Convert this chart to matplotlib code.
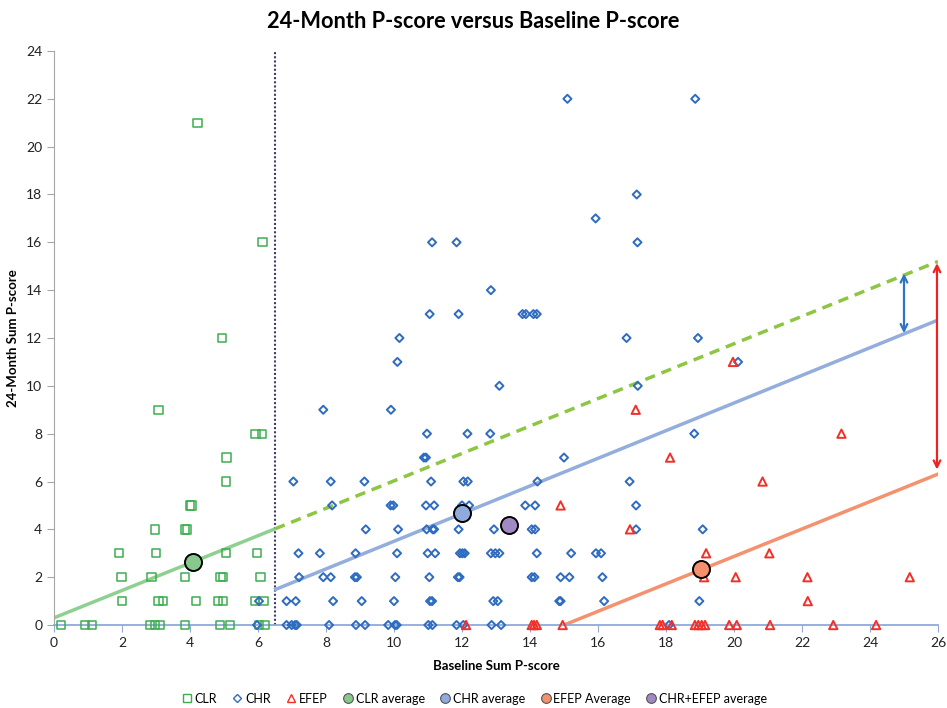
import matplotlib
matplotlib.use("Agg")
import matplotlib.pyplot as plt
from matplotlib.lines import Line2D

plt.rcParams['font.family'] = ['Lato', 'DejaVu Sans']

# ---------------- data ----------------
clr_x = [0.2, 0.92, 1.12, 2.82, 2.97, 3.12, 3.85, 4.88, 5.18, 6.03, 6.2,
         2.01, 3.07, 3.21, 4.17, 4.83, 4.98, 5.91, 6.16,
         1.99, 2.87, 3.86, 4.9, 4.98, 6.07,
         1.91, 3.01, 5.06, 5.97,
         2.97, 3.85, 3.92,
         4.0, 4.04,
         5.05, 5.07, 5.93, 6.12, 3.07, 4.95, 6.13, 4.22]
clr_y = [0, 0, 0, 0, 0, 0, 0, 0, 0, 0, 0,
         1, 1, 1, 1, 1, 1, 1, 1,
         2, 2, 2, 2, 2, 2,
         3, 3, 3, 3,
         4, 4, 4,
         5, 5,
         6, 7, 8, 8, 9, 12, 16, 21]

chr_x = [5.97, 6.84, 6.99, 7.09, 7.14, 8.09, 8.88, 9.15, 9.83, 10.03, 10.08, 11.01, 11.13, 11.84, 12.04, 12.87, 13.15, 18.09,
         6.03, 6.84, 7.11, 8.21, 9.05, 10.0, 11.06, 11.12, 12.92, 13.05, 14.86, 14.9, 16.18, 18.98,
         7.21, 7.92, 8.14, 8.85, 8.91, 10.04, 11.04, 11.88, 11.93, 14.05, 14.13, 14.9, 15.16, 16.13,
         7.19, 7.82, 8.87, 10.09, 10.99, 11.21, 11.94, 12.01, 12.08, 12.85, 12.98, 13.1, 14.2, 15.21, 15.94, 16.09,
         9.17, 10.12, 10.96, 11.14, 11.18, 11.9, 12.94, 14.05, 14.15, 17.12, 19.08,
         8.18, 9.9, 9.98, 10.94, 11.18, 12.0, 12.21, 13.86, 14.15, 17.12,
         7.04, 8.14, 9.13, 11.09, 12.04, 12.17, 14.22, 16.93,
         10.88, 10.94, 15.0,
         10.97, 12.16, 12.83, 18.83,
         7.92, 9.91,
         13.1, 17.17,
         10.1, 20.12,
         10.16, 16.84, 18.94,
         11.05, 11.9, 13.78, 13.88, 14.1, 14.2,
         12.85,
         11.12, 11.84, 17.16,
         15.93, 17.14,
         15.1, 18.86]
chr_y = [0] * 18 + [1] * 14 + [2] * 14 + [3] * 16 + [4] * 11 + [5] * 10 + [6] * 8 + \
        [7] * 3 + [8] * 4 + [9] * 2 + [10] * 2 + [11] * 2 + [12] * 3 + [13] * 6 + [14] + \
        [16] * 3 + [17, 18] + [22] * 2

efep_x = [12.12, 14.05, 14.12, 14.2, 14.96, 17.82, 17.9, 18.17, 18.85, 18.95, 19.05, 19.15,
          19.86, 20.08, 21.06, 22.92, 24.18,
          22.17,
          19.12, 20.05, 22.16, 25.17,
          19.18, 21.04,
          16.94, 14.9, 20.84, 18.12, 23.16, 17.11, 19.97]
efep_y = [0] * 17 + [1] + [2] * 4 + [3] * 2 + [4, 5, 6, 7, 8, 9, 11]

avg_labels = ['CLR average', 'CHR average', 'EFEP Average', 'CHR+EFEP average']
avg_x = [4.1, 12.0, 19.03, 13.38]
avg_y = [2.63, 4.67, 2.34, 4.2]

# trend lines (endpoints)
clr_fit_x = [0, 6.5]
clr_fit_y = [0.3, 4.02]
clr_ext_x = [6.5, 26]
clr_ext_y = [4.02, 15.2]
chr_fit_x = [6.52, 26]
chr_fit_y = [1.49, 12.75]
efep_fit_x = [15, 26]
efep_fit_y = [0, 6.31]

cutoff_x = 6.5

blue_arrow_x = 25.0
blue_arrow_y = [14.7, 12.2]
red_arrow_x = 25.97
red_arrow_y = [15.13, 6.5]

# ---------------- styles ----------------
c_clr = '#3DAE4F'
c_chr = '#2F6CC0'
c_efep = '#F2302A'
avg_colors = ['#86C98A', '#8FAADC', '#F4906C', '#A189C4']

fig = plt.figure(figsize=(9.47, 7.08), dpi=100)
ax = fig.add_axes([0.057, 0.1172, 0.9335, 0.8108])

ax.plot(clr_fit_x, clr_fit_y, color='#8ED08F', lw=2.5, solid_capstyle='butt', zorder=2)
ax.plot(clr_ext_x, clr_ext_y, color='#8DC642', lw=2.5, ls=(0, (3, 2)), zorder=2)
ax.plot(chr_fit_x, chr_fit_y, color='#93ADDD', lw=2.5, zorder=2)
ax.plot(efep_fit_x, efep_fit_y, color='#F4916F', lw=2.5, zorder=2)
ax.axvline(cutoff_x, color='#3C3C6E', lw=1.5, ls=(0, (1, 1)), zorder=1)

ax.scatter(clr_x, clr_y, marker='s', s=36, facecolors='none', edgecolors=c_clr,
           linewidths=1.1, clip_on=False, zorder=3, label='CLR')
ax.scatter(chr_x, chr_y, marker='D', s=17, facecolors='none', edgecolors=c_chr,
           linewidths=1.4, clip_on=False, zorder=3, label='CHR')
ax.scatter(efep_x, efep_y, marker='^', s=36, facecolors='none', edgecolors=c_efep,
           linewidths=1.4, clip_on=False, zorder=3, label='EFEP')
for xx, yy, cc in zip(avg_x, avg_y, avg_colors):
    ax.scatter([xx], [yy], marker='o', s=150, facecolors=cc, edgecolors='black',
               linewidths=1.4, zorder=5)

ax.annotate('', xy=(blue_arrow_x, blue_arrow_y[1]), xytext=(blue_arrow_x, blue_arrow_y[0]),
            arrowprops=dict(arrowstyle='<->', color='#2E75C0', lw=1.6, mutation_scale=12,
                            shrinkA=0, shrinkB=0), annotation_clip=False)
ax.annotate('', xy=(red_arrow_x, red_arrow_y[1]), xytext=(red_arrow_x, red_arrow_y[0]),
            arrowprops=dict(arrowstyle='<->', color='#EE2222', lw=1.6, mutation_scale=12,
                            shrinkA=0, shrinkB=0), annotation_clip=False)

ax.set_xlim(0, 26)
ax.set_ylim(0, 24)
ax.set_xticks(range(0, 27, 2))
ax.set_yticks(range(0, 25, 2))
for s in ['top', 'right']:
    ax.spines[s].set_visible(False)
ax.spines['left'].set_color('#A6A6A6')
ax.spines['bottom'].set_color('#8EA9DB')
ax.spines['bottom'].set_linewidth(1.3)
ax.tick_params(axis='y', colors='#A6A6A6', labelcolor='#222222', labelsize=10, length=5, direction='out')
ax.tick_params(axis='x', colors='#8EA9DB', labelcolor='#222222', labelsize=10, length=5, direction='out')

ax.set_xlabel('Baseline Sum P-score', fontsize=9.5, fontweight='bold', labelpad=8)
ax.set_ylabel('24-Month Sum P-score', fontsize=9.5, fontweight='bold')
ax.yaxis.set_label_coords(-0.04, 0.5)
fig.suptitle('24-Month P-score versus Baseline P-score', fontsize=15.7, fontweight='bold', y=0.985)

handles = [
    Line2D([], [], ls='none', marker='s', markersize=6, markerfacecolor='none', markeredgecolor=c_clr),
    Line2D([], [], ls='none', marker='D', markersize=4.5, markerfacecolor='none', markeredgecolor=c_chr),
    Line2D([], [], ls='none', marker='^', markersize=6, markerfacecolor='none', markeredgecolor=c_efep),
]
labels = ['CLR', 'CHR', 'EFEP']
for cc, lab in zip(avg_colors, avg_labels):
    handles.append(Line2D([], [], ls='none', marker='o', markersize=7, markerfacecolor=cc,
                          markeredgecolor='#555555', markeredgewidth=0.8))
    labels.append(lab)
fig.legend(handles, labels, loc='center', bbox_to_anchor=(0.5, 0.013), ncol=7, frameon=False,
           fontsize=9, handletextpad=0.05, columnspacing=1.1, handlelength=1.1)

fig.savefig('out.png', dpi=100)
